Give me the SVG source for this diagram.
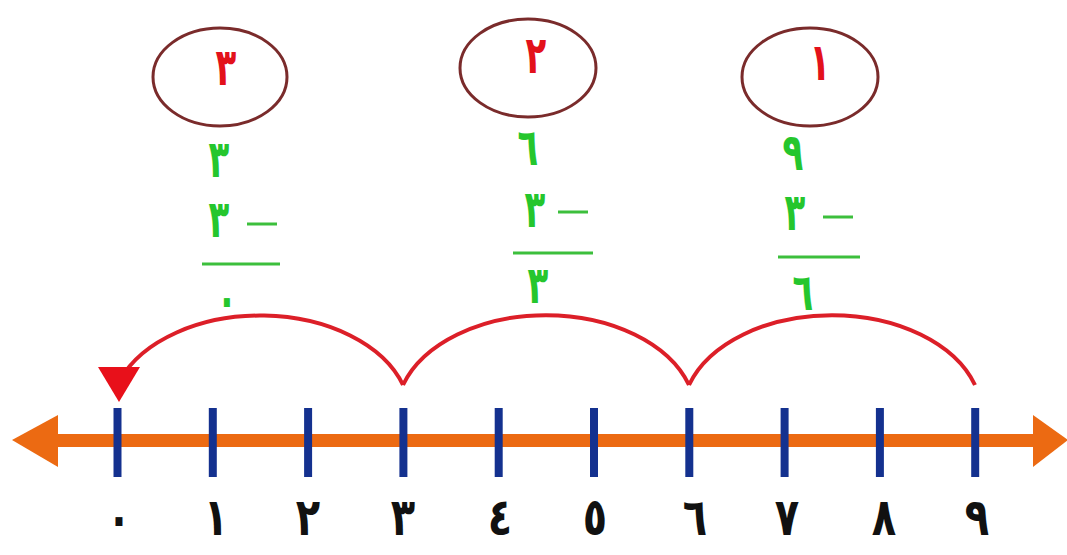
<svg xmlns="http://www.w3.org/2000/svg" width="1067" height="555" viewBox="0 0 1067 555">
  <style>
    .axis { fill: #ec6a12; }
    .tick { stroke: #14318f; stroke-width: 8; }
    .num { font-family: "DejaVu Sans", sans-serif; font-weight: bold; font-size: 40px; fill: #111111; text-anchor: middle; }
    .step { font-family: "DejaVu Sans", sans-serif; font-weight: bold; font-size: 40px; fill: #e3111b; text-anchor: middle; }
    .calc { font-family: "DejaVu Sans", sans-serif; font-weight: bold; font-size: 40px; fill: #25c62d; text-anchor: middle; }
    .rule { stroke: #3cbf3c; stroke-width: 3; }
    .ring { fill: none; stroke: #7a2b2b; stroke-width: 3; }
    .jump { fill: none; stroke: #dc1f28; stroke-width: 4; }
  </style>
  <rect width="1067" height="555" fill="#ffffff"/>

  <!-- number line -->
  <g id="axis">
    <rect class="axis" x="50" y="434" width="990" height="13"/>
    <polygon class="axis" points="12,440 58,415 58,467"/>
    <polygon class="axis" points="1068,440 1033,415 1033,467"/>
  </g>

  <!-- ticks with labels 0..9 (digits stretched upright, scaled about the baseline) -->
  <g id="tick0"><line class="tick" x1="117.5" y1="408" x2="117.5" y2="477"/><text class="num" transform="translate(119,536) scale(1,1.3)">٠</text></g>
  <g id="tick1"><line class="tick" x1="212.8" y1="408" x2="212.8" y2="477"/><text class="num" transform="translate(216,535) scale(1,1.3)">١</text></g>
  <g id="tick2"><line class="tick" x1="308.1" y1="408" x2="308.1" y2="477"/><text class="num" transform="translate(308,535) scale(1,1.3)">٢</text></g>
  <g id="tick3"><line class="tick" x1="403.4" y1="408" x2="403.4" y2="477"/><text class="num" transform="translate(403,535) scale(1,1.3)">٣</text></g>
  <g id="tick4"><line class="tick" x1="498.7" y1="408" x2="498.7" y2="477"/><text class="num" transform="translate(500,535) scale(1,1.3)">٤</text></g>
  <g id="tick5"><line class="tick" x1="594" y1="408" x2="594" y2="477"/><text class="num" transform="translate(595,535) scale(1,1.3)">٥</text></g>
  <g id="tick6"><line class="tick" x1="689.3" y1="408" x2="689.3" y2="477"/><text class="num" transform="translate(695,535) scale(1,1.3)">٦</text></g>
  <g id="tick7"><line class="tick" x1="784.6" y1="408" x2="784.6" y2="477"/><text class="num" transform="translate(787,535) scale(1,1.3)">٧</text></g>
  <g id="tick8"><line class="tick" x1="879.9" y1="408" x2="879.9" y2="477"/><text class="num" transform="translate(884,535) scale(1,1.3)">٨</text></g>
  <g id="tick9"><line class="tick" x1="975.2" y1="408" x2="975.2" y2="477"/><text class="num" transform="translate(977,535) scale(1,1.3)">٩</text></g>

  <!-- step 3: 3 - 3 = 0 -->
  <g id="step3">
    <ellipse class="ring" cx="220" cy="77" rx="67" ry="49"/>
    <text class="step" transform="translate(226,85) scale(0.85,1.3)">٣</text>
    <text class="calc" transform="translate(219,177) scale(0.85,1.3)">٣</text>
    <text class="calc" transform="translate(219,237) scale(0.85,1.3)">٣</text>
    <line class="rule" x1="247" y1="224" x2="277" y2="224"/>
    <line class="rule" x1="202" y1="264" x2="280" y2="264"/>
    <text class="calc" transform="translate(227,317) scale(0.85,1.3)">٠</text>
  </g>

  <!-- step 2: 6 - 3 = 3 -->
  <g id="step2">
    <ellipse class="ring" cx="528" cy="68" rx="68" ry="49"/>
    <text class="step" transform="translate(536,73) scale(0.85,1.3)">٢</text>
    <text class="calc" transform="translate(528,165) scale(0.85,1.3)">٦</text>
    <text class="calc" transform="translate(535,227) scale(0.85,1.3)">٣</text>
    <line class="rule" x1="558" y1="212" x2="588" y2="212"/>
    <line class="rule" x1="513" y1="253" x2="593" y2="253"/>
    <text class="calc" transform="translate(538,303) scale(0.85,1.3)">٣</text>
  </g>

  <!-- step 1: 9 - 3 = 6 -->
  <g id="step1">
    <ellipse class="ring" cx="810" cy="77" rx="68" ry="49"/>
    <text class="step" transform="translate(820,80) scale(0.85,1.3)">١</text>
    <text class="calc" transform="translate(793,170) scale(0.85,1.3)">٩</text>
    <text class="calc" transform="translate(795,230) scale(0.85,1.3)">٣</text>
    <line class="rule" x1="823" y1="217" x2="853" y2="217"/>
    <line class="rule" x1="778" y1="257" x2="860" y2="257"/>
    <text class="calc" transform="translate(803,310) scale(0.85,1.3)">٦</text>
  </g>

  <!-- jumps of 3 back from 9 to 0 -->
  <g id="connectors">
    <path class="jump" d="M975,385 A150,100 0 0 0 689,385"/>
    <path class="jump" d="M689,385 A150,100 0 0 0 403,385"/>
    <path class="jump" d="M403,385 A150,100 0 0 0 120,380"/>
    <polygon points="98,367 140,367 119,402" fill="#e8101a"/>
  </g>
</svg>
